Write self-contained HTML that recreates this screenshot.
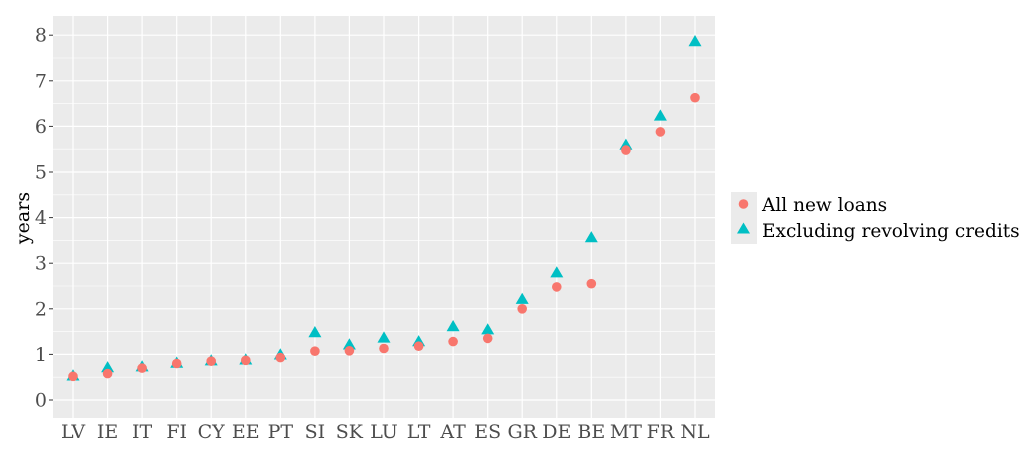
<!DOCTYPE html>
<html><head><meta charset="utf-8"><style>
html,body{margin:0;padding:0;background:#fff;}
svg{display:block;font-family:"DejaVu Serif","Liberation Serif",serif;}
</style></head><body>
<svg width="1024" height="456" viewBox="0 0 1024 456" xmlns="http://www.w3.org/2000/svg">
<defs>
<polygon id="tri" points="0,-7 6.5,4.2 -6.5,4.2" fill="#00bfc4"/>
<circle id="dot" cx="0" cy="0" r="4.8" fill="#f8766d"/>
</defs>
<rect x="53" y="16" width="662" height="402" fill="#ebebeb"/>
<g stroke="#fff" stroke-width="0.6">
<line x1="53" x2="715" y1="377.2" y2="377.2"/><line x1="53" x2="715" y1="331.6" y2="331.6"/>
<line x1="53" x2="715" y1="286" y2="286"/><line x1="53" x2="715" y1="240.4" y2="240.4"/>
<line x1="53" x2="715" y1="194.8" y2="194.8"/><line x1="53" x2="715" y1="149.2" y2="149.2"/>
<line x1="53" x2="715" y1="103.6" y2="103.6"/><line x1="53" x2="715" y1="58" y2="58"/>
</g>
<g stroke="#fff" stroke-width="1.2">
<line x1="53" x2="715" y1="400" y2="400"/><line x1="53" x2="715" y1="354.4" y2="354.4"/>
<line x1="53" x2="715" y1="308.8" y2="308.8"/><line x1="53" x2="715" y1="263.2" y2="263.2"/>
<line x1="53" x2="715" y1="217.6" y2="217.6"/><line x1="53" x2="715" y1="172" y2="172"/>
<line x1="53" x2="715" y1="126.4" y2="126.4"/><line x1="53" x2="715" y1="80.8" y2="80.8"/>
<line x1="53" x2="715" y1="35.2" y2="35.2"/>
<line x1="73" x2="73" y1="16" y2="418"/><line x1="107.6" x2="107.6" y1="16" y2="418"/>
<line x1="142.1" x2="142.1" y1="16" y2="418"/><line x1="176.7" x2="176.7" y1="16" y2="418"/>
<line x1="211.2" x2="211.2" y1="16" y2="418"/><line x1="245.8" x2="245.8" y1="16" y2="418"/>
<line x1="280.3" x2="280.3" y1="16" y2="418"/><line x1="314.9" x2="314.9" y1="16" y2="418"/>
<line x1="349.4" x2="349.4" y1="16" y2="418"/><line x1="384" x2="384" y1="16" y2="418"/>
<line x1="418.6" x2="418.6" y1="16" y2="418"/><line x1="453.1" x2="453.1" y1="16" y2="418"/>
<line x1="487.7" x2="487.7" y1="16" y2="418"/><line x1="522.2" x2="522.2" y1="16" y2="418"/>
<line x1="556.8" x2="556.8" y1="16" y2="418"/><line x1="591.3" x2="591.3" y1="16" y2="418"/>
<line x1="625.9" x2="625.9" y1="16" y2="418"/><line x1="660.4" x2="660.4" y1="16" y2="418"/>
<line x1="695" x2="695" y1="16" y2="418"/>
</g>
<g stroke="#333" stroke-width="1">
<line x1="49" x2="53" y1="400" y2="400"/><line x1="49" x2="53" y1="354.4" y2="354.4"/>
<line x1="49" x2="53" y1="308.8" y2="308.8"/><line x1="49" x2="53" y1="263.2" y2="263.2"/>
<line x1="49" x2="53" y1="217.6" y2="217.6"/><line x1="49" x2="53" y1="172" y2="172"/>
<line x1="49" x2="53" y1="126.4" y2="126.4"/><line x1="49" x2="53" y1="80.8" y2="80.8"/>
<line x1="49" x2="53" y1="35.2" y2="35.2"/>
</g>
<g>
<use href="#tri" x="73" y="376.3"/><use href="#tri" x="107.6" y="368.1"/><use href="#tri" x="142.1" y="367.2"/>
<use href="#tri" x="176.7" y="363.5"/><use href="#tri" x="211.2" y="361.2"/><use href="#tri" x="245.8" y="360.3"/>
<use href="#tri" x="280.3" y="355.3"/><use href="#tri" x="314.9" y="333"/><use href="#tri" x="349.4" y="345.3"/>
<use href="#tri" x="384" y="338.4"/><use href="#tri" x="418.6" y="342.1"/><use href="#tri" x="453.1" y="327"/>
<use href="#tri" x="487.7" y="330.2"/><use href="#tri" x="522.2" y="299.7"/><use href="#tri" x="556.8" y="273.2"/>
<use href="#tri" x="591.3" y="238.1"/><use href="#tri" x="625.9" y="145.6"/><use href="#tri" x="660.4" y="116.4"/>
<use href="#tri" x="695" y="42"/>
<use href="#dot" x="73" y="376.3"/><use href="#dot" x="107.6" y="373.6"/><use href="#dot" x="142.1" y="368.1"/>
<use href="#dot" x="176.7" y="363.5"/><use href="#dot" x="211.2" y="361.2"/><use href="#dot" x="245.8" y="360.3"/>
<use href="#dot" x="280.3" y="357.6"/><use href="#dot" x="314.9" y="351.2"/><use href="#dot" x="349.4" y="350.8"/>
<use href="#dot" x="384" y="348.5"/><use href="#dot" x="418.6" y="346.2"/><use href="#dot" x="453.1" y="341.6"/>
<use href="#dot" x="487.7" y="338.4"/><use href="#dot" x="522.2" y="308.8"/><use href="#dot" x="556.8" y="286.9"/>
<use href="#dot" x="591.3" y="283.7"/><use href="#dot" x="625.9" y="150.1"/><use href="#dot" x="660.4" y="131.9"/>
<use href="#dot" x="695" y="97.7"/>
</g>
<g font-size="19" fill="#4d4d4d" text-anchor="end">
<text x="47" y="406.5">0</text><text x="47" y="360.9">1</text><text x="47" y="315.3">2</text>
<text x="47" y="269.7">3</text><text x="47" y="224.1">4</text><text x="47" y="178.5">5</text>
<text x="47" y="132.9">6</text><text x="47" y="87.3">7</text><text x="47" y="41.7">8</text>
</g>
<g font-size="19" fill="#4d4d4d" text-anchor="middle">
<text x="73" y="438">LV</text><text x="107.6" y="438">IE</text><text x="142.1" y="438">IT</text>
<text x="176.7" y="438">FI</text><text x="211.2" y="438">CY</text><text x="245.8" y="438">EE</text>
<text x="280.3" y="438">PT</text><text x="314.9" y="438">SI</text><text x="349.4" y="438">SK</text>
<text x="384" y="438">LU</text><text x="418.6" y="438">LT</text><text x="453.1" y="438">AT</text>
<text x="487.7" y="438">ES</text><text x="522.2" y="438">GR</text><text x="556.8" y="438">DE</text>
<text x="591.3" y="438">BE</text><text x="625.9" y="438">MT</text><text x="660.4" y="438">FR</text>
<text x="695" y="438">NL</text>
</g>
<text transform="translate(29,218) rotate(-90)" font-size="19" text-anchor="middle" fill="#000">years</text>
<rect x="731" y="192" width="26" height="52" fill="#ebebeb"/>
<circle cx="743.5" cy="204" r="4.8" fill="#f8766d"/>
<polygon points="743.5,222.5 750,233.5 737,233.5" fill="#00bfc4"/>
<text x="762" y="211" font-size="18.5" fill="#000">All new loans</text>
<text x="762" y="237" font-size="18.5" fill="#000">Excluding revolving credits</text>
</svg>
</body></html>
